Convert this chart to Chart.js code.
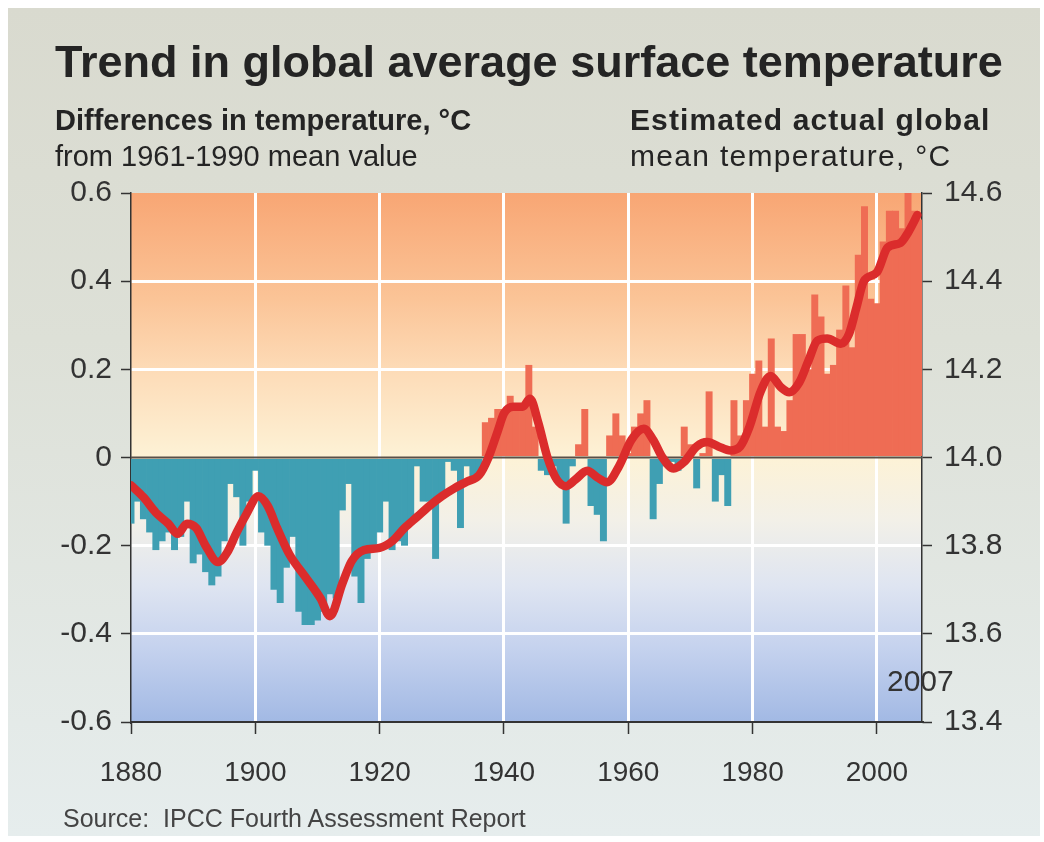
<!DOCTYPE html>
<html>
<head>
<meta charset="utf-8">
<script src="https://cdn.jsdelivr.net/npm/chart.js@4.4.1/dist/chart.umd.min.js"></script>
<style>
  html, body { margin: 0; padding: 0; background: #ffffff; }
  #card {
    position: absolute; left: 8px; top: 8px; width: 1032px; height: 828px;
    background: linear-gradient(#d9dacf 0%, #dde0d7 40%, #e6eded 100%);
  }
  #c { position: absolute; left: 0; top: 0; }
  .t {
    position: absolute; white-space: nowrap; line-height: 1;
    font-family: "Liberation Sans", Arial, Helvetica, sans-serif; color: #242424;
  }
</style>
</head>
<body>
<div id="card"></div>
<canvas id="c" width="1044" height="842"></canvas>

<div class="t" style="left:55px; top:39px; font-size:45px; font-weight:bold;">Trend in global average surface temperature</div>
<div class="t" style="left:55px; top:106px; font-size:29px; font-weight:bold;">Differences in temperature, °C</div>
<div class="t" style="left:55px; top:142px; font-size:29px;">from 1961-1990 mean value</div>
<div class="t" style="left:630px; top:105px; font-size:30px; font-weight:bold; letter-spacing:1.1px;">Estimated actual global</div>
<div class="t" style="left:630px; top:141px; font-size:30px; letter-spacing:1.3px;">mean temperature, °C</div>
<div class="t" style="left:887px; top:666px; font-size:30px; color:#333;">2007</div>
<div class="t" style="left:63px; top:806px; font-size:25px; color:#444;">Source:&nbsp; IPCC Fourth Assessment Report</div>

<script>
// Annual global temperature anomalies (°C, relative to 1961-1990), one per year from 1880
const FIRST_YEAR = 1880;
const anomalies = [
  -0.15, -0.10, -0.14, -0.17, -0.21, -0.19, -0.17, -0.21, -0.18, -0.10, // 1880s
  -0.24, -0.22, -0.26, -0.29, -0.27, -0.19, -0.06, -0.09, -0.20, -0.10, // 1890s
  -0.03, -0.17, -0.20, -0.30, -0.33, -0.25, -0.18, -0.35, -0.38, -0.38, // 1900s
  -0.37, -0.35, -0.31, -0.32, -0.12, -0.06, -0.27, -0.33, -0.23, -0.21, // 1910s
  -0.17, -0.10, -0.21, -0.19, -0.20, -0.14, -0.02, -0.10, -0.10, -0.23, // 1920s
  -0.09, -0.01, -0.03, -0.16, -0.02, -0.05, -0.04,  0.08,  0.09,  0.11, // 1930s
   0.11,  0.14,  0.11,  0.11,  0.21,  0.07, -0.03, -0.04, -0.02, -0.06, // 1940s
  -0.15, -0.02,  0.03,  0.11, -0.11, -0.13, -0.19,  0.05,  0.10,  0.05, // 1950s
   0.01,  0.07,  0.10,  0.13, -0.14, -0.06, -0.02, -0.01, -0.03,  0.07, // 1960s
   0.03, -0.07,  0.01,  0.15, -0.10, -0.04, -0.11,  0.13,  0.05,  0.13, // 1970s
   0.19,  0.22,  0.07,  0.27,  0.07,  0.06,  0.13,  0.28,  0.28,  0.20, // 1980s
   0.37,  0.32,  0.19,  0.21,  0.29,  0.39,  0.25,  0.46,  0.57,  0.36, // 1990s
   0.35,  0.49,  0.56,  0.56,  0.52,  0.60,  0.56,  0.54              // 2000-2007
];
const years = anomalies.map((_, i) => FIRST_YEAR + i);

// Smoothed trend curve
const smoothYears = [
  1880, 1882, 1884, 1886, 1887.5, 1889, 1890.5, 1892, 1894, 1895.5, 1897, 1898.5,
  1900.5, 1902, 1903.5, 1905.5, 1908, 1910.5, 1912, 1914, 1915.5, 1917.5, 1920,
  1922, 1924, 1926, 1928, 1930, 1932, 1934, 1936, 1937.5, 1939, 1940, 1941.5,
  1943, 1944.2, 1945.5, 1947, 1948.5, 1950, 1951.5, 1953.4, 1955, 1956.6, 1958.5,
  1960.5, 1962.5, 1964, 1965.5, 1967.3, 1969, 1971, 1972.7, 1974.5, 1976.4, 1978,
  1979.5, 1981.3, 1982.9, 1984.5, 1985.9, 1987.5, 1989, 1990.4, 1992, 1994.2,
  1995.5, 1996.7, 1997.9, 2000, 2001.7, 2003.8, 2005, 2006.5
];
const smoothValues = [
  -0.063, -0.09, -0.125, -0.15, -0.173, -0.15, -0.16, -0.20, -0.237, -0.215, -0.17, -0.13,
  -0.088, -0.11, -0.16, -0.22, -0.27, -0.32, -0.36, -0.286, -0.235, -0.21, -0.205,
  -0.19, -0.16, -0.135, -0.11, -0.088, -0.07, -0.055, -0.04, 0.0, 0.06, 0.10, 0.115,
  0.115, 0.133, 0.08, 0.0, -0.05, -0.065, -0.05, -0.03, -0.045, -0.056, -0.02,
  0.04, 0.065, 0.04, 0.0, -0.025, -0.01, 0.025, 0.035, 0.025, 0.016, 0.025,
  0.07, 0.15, 0.185, 0.16, 0.148, 0.17, 0.22, 0.265, 0.27, 0.258,
  0.28, 0.34, 0.40, 0.42, 0.476, 0.487, 0.51, 0.55
];

// Axis ticks
const yearTicks = [1880, 1900, 1920, 1940, 1960, 1980, 2000];
const diffTicks = [-0.6, -0.4, -0.2, 0, 0.2, 0.4, 0.6];
const actualTicks = [13.4, 13.6, 13.8, 14.0, 14.2, 14.4, 14.6];

const FONT = '"Liberation Sans", Arial, Helvetica, sans-serif';

// Warm-to-cool wash behind the plot
const plotBackground = {
  id: 'plotBackground',
  beforeDraw(chart) {
    const { ctx, chartArea: a } = chart;
    const g = ctx.createLinearGradient(0, a.top, 0, a.bottom);
    g.addColorStop(0.00, '#f8a674');
    g.addColorStop(0.20, '#fbc497');
    g.addColorStop(0.34, '#fddcb8');
    g.addColorStop(0.50, '#fdf2d6');
    g.addColorStop(0.62, '#f2f0e8');
    g.addColorStop(0.74, '#dfe5f1');
    g.addColorStop(0.86, '#c5d2ee');
    g.addColorStop(1.00, '#a2b9e4');
    ctx.save();
    ctx.fillStyle = g;
    ctx.fillRect(a.left, a.top, a.right - a.left, a.bottom - a.top);
    ctx.restore();
  }
};

// Baseline at zero, drawn over the bars and under the trend curve
const zeroLine = {
  id: 'zeroLine',
  beforeDatasetDraw(chart, args) {
    if (args.meta.type !== 'line') return;
    const { ctx, chartArea: a } = chart;
    const y = chart.scales.y.getPixelForValue(0);
    ctx.save();
    ctx.strokeStyle = '#5a5049';
    ctx.lineWidth = 2;
    ctx.beginPath();
    ctx.moveTo(a.left, y);
    ctx.lineTo(a.right, y);
    ctx.stroke();
    ctx.restore();
  }
};

const isInnerGrid = v => [0.2, 0.4].some(g => Math.abs(Math.abs(v) - g) < 1e-6);

new Chart(document.getElementById('c'), {
  type: 'bar',
  data: {
    datasets: [
      {
        type: 'line',
        data: smoothYears.map((x, i) => ({ x, y: smoothValues[i] })),
        borderColor: '#db2c2c',
        borderWidth: 8.5,
        pointRadius: 0,
        cubicInterpolationMode: 'monotone',
        borderCapStyle: 'round',
        borderJoinStyle: 'round',
        order: 0
      },
      {
        type: 'bar',
        data: years.map((x, i) => ({ x, y: anomalies[i] })),
        backgroundColor: c => (c.raw && c.raw.y >= 0) ? '#ef6c54' : '#3f9fb3',
        borderWidth: 0,
        barPercentage: 1.12,
        categoryPercentage: 1,
        clip: 0,
        order: 1
      }
    ]
  },
  options: {
    responsive: false,
    animation: false,
    devicePixelRatio: 1,
    layout: { padding: { top: 193, left: 0, right: 0, bottom: 0 } },
    plugins: { legend: { display: false }, tooltip: { enabled: false } },
    scales: {
      x: {
        type: 'linear',
        position: 'bottom',
        min: 1880,
        max: 2007.25,
        offset: false,
        afterBuildTicks: s => { s.ticks = yearTicks.map(v => ({ value: v })); },
        afterFit: s => { s.height = 120; },
        ticks: {
          autoSkip: false, maxRotation: 0, padding: 22, color: '#333',
          font: { family: FONT, size: 28 },
          callback: v => String(v)
        },
        grid: {
          offset: false,
          color: c => (c.tick && c.tick.value > 1880) ? '#ffffff' : 'rgba(0,0,0,0)',
          lineWidth: 3,
          tickColor: '#333',
          tickLength: 12,
          tickWidth: 1.5
        },
        border: { display: true, color: '#333', width: 2 }
      },
      y: {
        position: 'left',
        min: -0.6,
        max: 0.6,
        afterBuildTicks: s => { s.ticks = diffTicks.map(v => ({ value: v })); },
        afterFit: s => { s.width = 131; },
        ticks: {
          padding: 9, color: '#333',
          font: { family: FONT, size: 30 },
          callback: v => v === 0 ? '0' : v.toFixed(1)
        },
        grid: {
          color: c => (c.tick && isInnerGrid(c.tick.value)) ? '#ffffff' : 'rgba(0,0,0,0)',
          lineWidth: 3,
          tickColor: '#333',
          tickLength: 10,
          tickWidth: 1.5
        },
        border: { display: true, color: '#333', width: 1.5 }
      },
      y2: {
        position: 'right',
        min: 13.4,
        max: 14.6,
        afterBuildTicks: s => { s.ticks = actualTicks.map(v => ({ value: v })); },
        afterFit: s => { s.width = 122; },
        ticks: {
          padding: 12, color: '#333',
          font: { family: FONT, size: 30 },
          callback: v => v.toFixed(1)
        },
        grid: {
          drawOnChartArea: false,
          color: '#333',
          tickColor: '#333',
          tickLength: 10,
          tickWidth: 1.5
        },
        border: { display: true, color: '#333', width: 1.5 }
      }
    }
  },
  plugins: [plotBackground, zeroLine]
});
</script>
</body>
</html>
